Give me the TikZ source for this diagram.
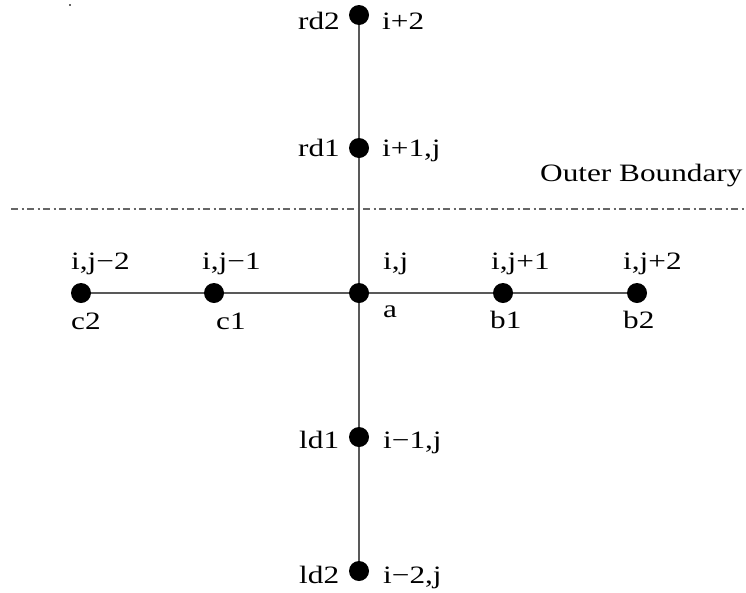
\documentclass[tikz,border=0pt]{standalone}
\usepackage{fontspec}
\setmainfont{Liberation Serif}[FakeStretch=1.25]
\usetikzlibrary{positioning}
\tikzset{
	point/.style={circle, fill=black, inner sep=0pt, minimum size=20pt},
	lbl/.style={anchor=base west, inner sep=0pt, font=\fontsize{25}{30}\selectfont},
	link/.style={draw=black!65, line width=1.8pt},
	boundary/.style={draw=black!60, line width=1.2pt, dash pattern=on 7pt off 3.5pt on 2pt off 3.5pt},
}

\begin{document}
\begin{tikzpicture}[x=1pt, y=-1pt]
			\useasboundingbox (0,0) rectangle (746,592);
			\fill [black!60] (69,4) rectangle (71,6);
			
			% grid points
			\node (a) [point] at (359,293) {};
			\node (rd1) [point] at (359,148) {};
			\node (rd2) [point] at (359,15) {};
			\node (ld1) [point] at (359,437) {};
			\node (ld2) [point] at (359,571) {};
			\node (c1) [point] at (214,293) {};
			\node (c2) [point] at (81,293) {};
			\node (b1) [point] at (503,293) {};
			\node (b2) [point] at (637,293) {};
			
			% outer boundary
			\coordinate (bl) at (11,209);
			\coordinate (br) at (746,209);
			\node (outer) [lbl] at (540,181) {Outer Boundary};
			
			% labels
			\node (trd2) [lbl] at (298,29) {rd2};
			\node (nrd2) [lbl] at (382,29) {i+2};
			\node (trd1) [lbl] at (298,156) {rd1};
			\node (nrd1) [lbl] at (382,156) {i+1,j};
			\node (tld1) [lbl] at (299,448) {ld1};
			\node (nld1) [lbl] at (383,448) {i−1,j};
			\node (tld2) [lbl] at (299,583) {ld2};
			\node (nld2) [lbl] at (383,583) {i−2,j};
			
			\node (nc2) [lbl] at (71,269) {i,j−2};
			\node (nc1) [lbl] at (202,269) {i,j−1};
			\node (na) [lbl] at (383,269) {i,j};
			\node (nb1) [lbl] at (491,269) {i,j+1};
			\node (nb2) [lbl] at (623,269) {i,j+2};
			\node (tc2) [lbl] at (71,329) {c2};
			\node (tc1) [lbl] at (216,329) {c1};
			\node (ta) [lbl] at (383,317) {a};
			\node (tb1) [lbl] at (490,328) {b1};
			\node (tb2) [lbl] at (623,328) {b2};
			
			\draw [boundary] (bl) -- (br);
			\begin{scope}[link]
				\draw (rd2) -- (rd1);
				\draw (rd1) -- (a);
				\draw (a) -- (ld1);
				\draw (ld1) -- (ld2);
				\draw (c2) -- (c1);
				\draw (c1) -- (a);
				\draw (a) -- (b1);
				\draw (b1) -- (b2);
			\end{scope}
\end{tikzpicture}
\end{document}
